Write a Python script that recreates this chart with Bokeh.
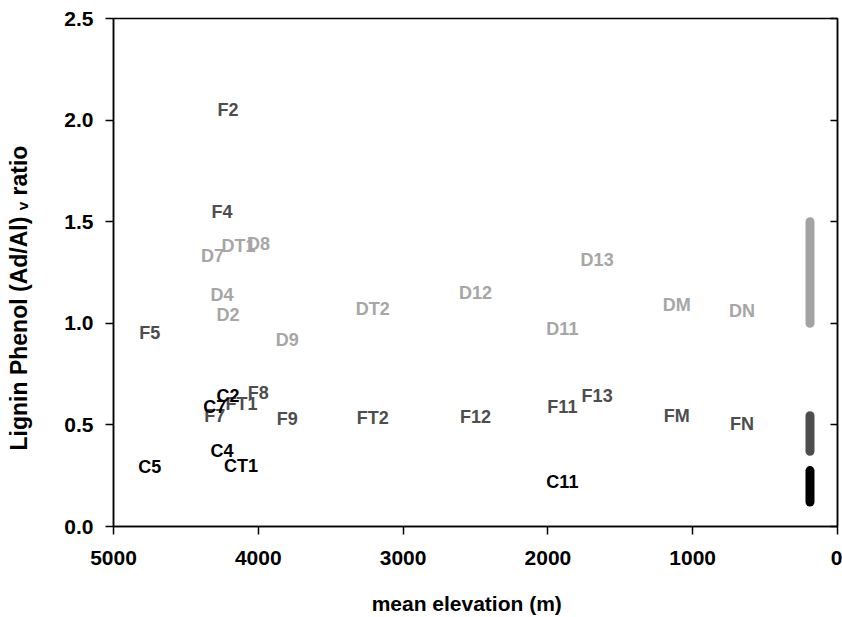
from bokeh.plotting import figure
from bokeh.models import (Range1d, FixedTicker, LinearAxis,
                          NumeralTickFormatter, CustomJSTickFormatter)
from bokeh.core.properties import value
from bokeh.embed import file_html
from bokeh.resources import INLINE

# ---- data ----
d_labels = ["D2", "D4", "D7", "DT1", "D8", "D9", "DT2", "D12", "D11", "D13", "DM", "DN"]
d_elev = [4210, 4250, 4316, 4137, 3999, 3800, 3210, 2500, 1900, 1660, 1110, 660]
d_ratio = [1.04, 1.14, 1.33, 1.38, 1.39, 0.92, 1.07, 1.15, 0.97, 1.31, 1.09, 1.06]

f_labels = ["F2", "F4", "F5", "F7", "FT1", "F8", "F9", "FT2", "F12", "F11", "F13", "FM", "FN"]
f_elev = [4210, 4250, 4750, 4300, 4116, 4000, 3800, 3210, 2500, 1900, 1660, 1110, 660]
f_ratio = [2.05, 1.55, 0.95, 0.546, 0.605, 0.655, 0.527, 0.536, 0.541, 0.586, 0.64, 0.546, 0.502]

c_labels = ["C2", "C7", "C4", "CT1", "C5", "C11"]
c_elev = [4210, 4300, 4250, 4120, 4750, 1900]
c_ratio = [0.64, 0.586, 0.374, 0.30, 0.295, 0.221]

range_x = [190, 190, 190]
range_low = [1.0, 0.37, 0.12]
range_high = [1.5, 0.545, 0.275]
range_colors = ["#a3a3a3", "#4d4d4d", "#000000"]

x_ticks = [0, 1000, 2000, 3000, 4000, 5000]
y_ticks = [0.0, 0.5, 1.0, 1.5, 2.0, 2.5]

FONT = "Liberation Sans"
NB = "\u00a0"

p = figure(width=842, height=617, output_backend="svg", toolbar_location=None,
           x_range=Range1d(5000, 0), y_range=Range1d(0, 2.5),
           min_border_left=113, min_border_right=5, min_border_top=18,
           min_border_bottom=91)
p.grid.visible = False
p.outline_line_color = "black"
p.outline_line_width = 1.5
p.background_fill_color = "white"
p.border_fill_color = "white"

for ax in (p.xaxis[0], p.yaxis[0]):
    ax.axis_line_width = 1.5
    ax.axis_line_color = "black"
    ax.major_tick_line_width = 1.5
    ax.major_tick_line_color = "black"
    ax.major_tick_in = 0
    ax.major_tick_out = 8
    ax.minor_tick_line_color = None
    ax.major_label_text_font = FONT
    ax.major_label_text_font_style = "bold"
    ax.major_label_text_font_size = "21px"
    ax.major_label_text_color = "black"
    ax.axis_label_text_font = FONT
    ax.axis_label_text_font_style = "bold"
    ax.axis_label_text_color = "black"

p.xaxis.ticker = FixedTicker(ticks=x_ticks)
p.yaxis.ticker = FixedTicker(ticks=y_ticks)
p.yaxis.formatter = NumeralTickFormatter(format="0.0")
p.xaxis.major_label_standoff = 16
p.yaxis.major_label_standoff = 12

p.xaxis.axis_label = "mean elevation (m)" + NB * 3
p.xaxis.axis_label_text_font_size = "21px"
p.xaxis.axis_label_standoff = 24

p.yaxis.axis_label = "Lignin Phenol (Ad/Al) \u1d65 ratio" + NB * 8
p.yaxis.axis_label_text_font_size = "23px"
p.yaxis.axis_label_standoff = 29

right = LinearAxis(ticker=FixedTicker(ticks=y_ticks), axis_line_width=1.5,
                   major_tick_in=7, major_tick_out=0, major_tick_line_width=1.5,
                   minor_tick_line_color=None,
                   formatter=CustomJSTickFormatter(code="return ''"),
                   major_label_standoff=0)
p.add_layout(right, "right")

# range bars
p.segment(x0=range_x, y0=range_low, x1=range_x, y1=range_high,
          line_color=range_colors, line_width=9, line_cap="round")

text_kw = dict(text_font=value(FONT), text_font_style="bold", text_font_size="18px",
               text_align="center", text_baseline="middle")
p.text(x=d_elev, y=d_ratio, text=d_labels, text_color="#a6a6a6", **text_kw)
p.text(x=f_elev, y=f_ratio, text=f_labels, text_color="#4d4d4d", **text_kw)
p.text(x=c_elev, y=c_ratio, text=c_labels, text_color="#000000", **text_kw)

open("out.html", "w").write(file_html(p, INLINE))
